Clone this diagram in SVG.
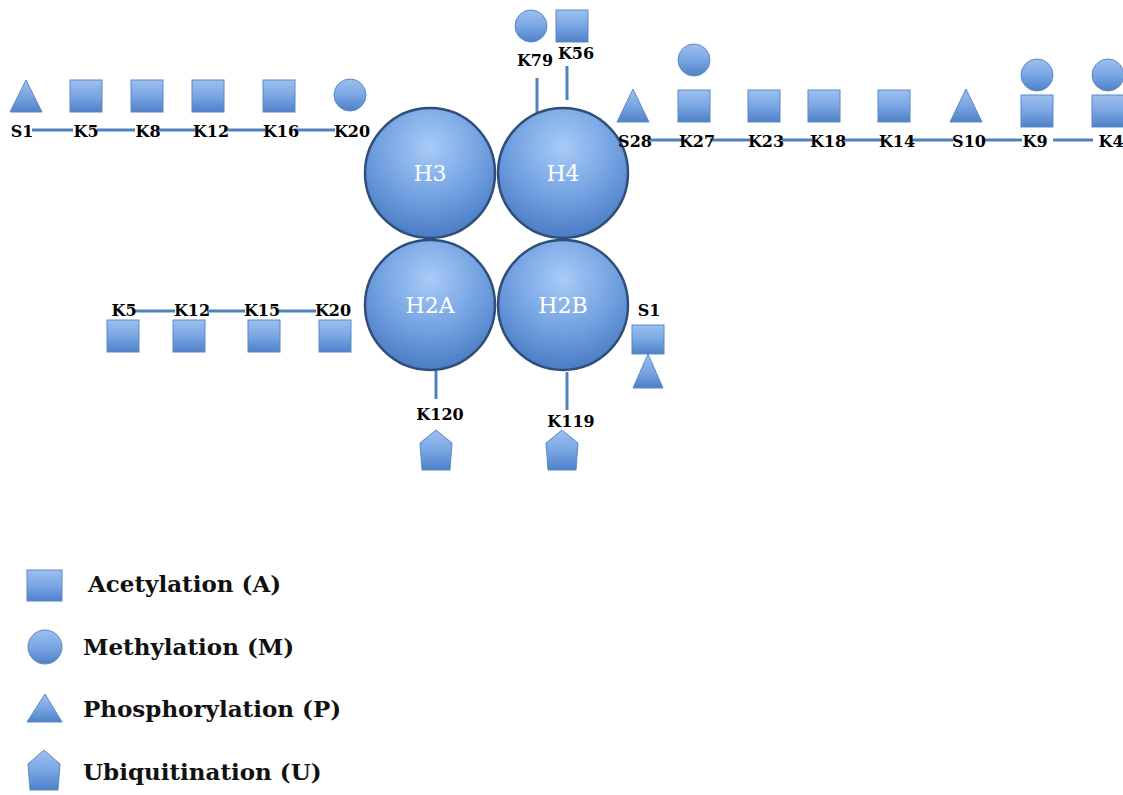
<svg xmlns="http://www.w3.org/2000/svg" width="1123" height="795" viewBox="0 0 1123 795">
<defs>
<linearGradient id="sg" x1="0" y1="0" x2="0" y2="1">
<stop offset="0" stop-color="#9dc0ef"/>
<stop offset="0.5" stop-color="#7aa6e3"/>
<stop offset="1" stop-color="#4f80c8"/>
</linearGradient>
<radialGradient id="cg" cx="0.5" cy="0.3" r="0.7">
<stop offset="0" stop-color="#a9cbf7"/>
<stop offset="0.6" stop-color="#6f9fe0"/>
<stop offset="1" stop-color="#4a7cc4"/>
</radialGradient>
<style>
.s{fill:url(#sg);stroke:#5b88c6;stroke-width:1}
.hc{fill:url(#cg);stroke:#2f4f7a;stroke-width:2.5}
.ht{font-family:"DejaVu Serif","Liberation Serif",serif;font-size:22px;fill:#ffffff;text-anchor:middle}
.lb{font-family:"DejaVu Serif","Liberation Serif",serif;font-size:16px;font-weight:bold;fill:#000;text-anchor:middle}
.lg{font-family:"DejaVu Serif","Liberation Serif",serif;font-size:23px;font-weight:bold;fill:#111}
.ln{stroke:#4f81bd;stroke-width:3;fill:none}
</style>
</defs>
<g id="connectors">
<line class="ln" x1="32" y1="130" x2="73" y2="130"/>
<line class="ln" x1="97" y1="130" x2="135" y2="130"/>
<line class="ln" x1="158" y1="130" x2="195" y2="130"/>
<line class="ln" x1="224" y1="130" x2="265" y2="130"/>
<line class="ln" x1="294" y1="130" x2="335" y2="130"/>
<line class="ln" x1="537" y1="78" x2="537" y2="112"/>
<line class="ln" x1="567" y1="66" x2="567" y2="100"/>
<line class="ln" x1="650" y1="140" x2="682" y2="140"/>
<line class="ln" x1="710" y1="140" x2="750" y2="140"/>
<line class="ln" x1="782" y1="140" x2="812" y2="140"/>
<line class="ln" x1="842" y1="140" x2="882" y2="140"/>
<line class="ln" x1="912" y1="140" x2="953" y2="140"/>
<line class="ln" x1="983" y1="140" x2="1022" y2="140"/>
<line class="ln" x1="1053" y1="140" x2="1093" y2="140"/>
<line class="ln" x1="133" y1="311" x2="175" y2="311"/>
<line class="ln" x1="207" y1="311" x2="245" y2="311"/>
<line class="ln" x1="276" y1="311" x2="316" y2="311"/>
<line class="ln" x1="436" y1="370" x2="436" y2="399"/>
<line class="ln" x1="567" y1="372" x2="567" y2="410"/>
</g>
<g id="H3"><circle class="hc" cx="430" cy="173" r="65"/><text class="ht" x="430" y="181">H3</text></g>
<g id="H4"><circle class="hc" cx="563" cy="173" r="65"/><text class="ht" x="563" y="181">H4</text></g>
<g id="H2A"><circle class="hc" cx="430" cy="305" r="65"/><text class="ht" x="430" y="313">H2A</text></g>
<g id="H2B"><circle class="hc" cx="563" cy="305" r="65"/><text class="ht" x="563" y="313">H2B</text></g>

<g id="H3-S1"><polygon class="s" points="26,80 42,112 10,112"/><text class="lb" x="22" y="137">S1</text></g>
<g id="H3-K5"><rect class="s" x="70" y="80" width="32" height="32"/><text class="lb" x="86" y="137">K5</text></g>
<g id="H3-K8"><rect class="s" x="131" y="80" width="32" height="32"/><text class="lb" x="148" y="137">K8</text></g>
<g id="H3-K12"><rect class="s" x="192" y="80" width="32" height="32"/><text class="lb" x="211" y="137">K12</text></g>
<g id="H3-K16"><rect class="s" x="263" y="80" width="32" height="32"/><text class="lb" x="281" y="137">K16</text></g>
<g id="H3-K20"><circle class="s" cx="350" cy="95" r="16"/><text class="lb" x="352" y="137">K20</text></g>

<g id="H4-K79"><circle class="s" cx="531" cy="26" r="16"/><text class="lb" x="535" y="66">K79</text></g>
<g id="H4-K56"><rect class="s" x="556" y="10" width="32" height="32"/><text class="lb" x="576" y="59">K56</text></g>

<g id="H4-S28"><polygon class="s" points="633,89 649,122 617,122"/><text class="lb" x="635" y="147">S28</text></g>
<g id="H4-K27"><circle class="s" cx="694" cy="60" r="16"/><rect class="s" x="678" y="90" width="32" height="32"/><text class="lb" x="697" y="147">K27</text></g>
<g id="H4-K23"><rect class="s" x="748" y="90" width="32" height="32"/><text class="lb" x="766" y="147">K23</text></g>
<g id="H4-K18"><rect class="s" x="808" y="90" width="32" height="32"/><text class="lb" x="828" y="147">K18</text></g>
<g id="H4-K14"><rect class="s" x="878" y="90" width="32" height="32"/><text class="lb" x="897" y="147">K14</text></g>
<g id="H4-S10"><polygon class="s" points="966,89 982,122 950,122"/><text class="lb" x="969" y="147">S10</text></g>
<g id="H4-K9"><circle class="s" cx="1037" cy="75" r="16"/><rect class="s" x="1021" y="95" width="32" height="32"/><text class="lb" x="1035" y="147">K9</text></g>
<g id="H4-K4"><circle class="s" cx="1108" cy="75" r="16"/><rect class="s" x="1092" y="95" width="32" height="32"/><text class="lb" x="1111" y="147">K4</text></g>

<g id="H2A-K5"><rect class="s" x="107" y="320" width="32" height="32"/><text class="lb" x="124" y="316">K5</text></g>
<g id="H2A-K12"><rect class="s" x="173" y="320" width="32" height="32"/><text class="lb" x="192" y="316">K12</text></g>
<g id="H2A-K15"><rect class="s" x="248" y="320" width="32" height="32"/><text class="lb" x="262" y="316">K15</text></g>
<g id="H2A-K20"><rect class="s" x="319" y="320" width="32" height="32"/><text class="lb" x="333" y="316">K20</text></g>
<g id="H2A-K120"><polygon class="s" points="436,430 452,443 450,470 422,470 420,443"/><text class="lb" x="440" y="420">K120</text></g>

<g id="H2B-S1"><rect class="s" x="632" y="325" width="32" height="29"/><polygon class="s" points="648,354 663,388 633,388"/><text class="lb" x="649" y="316">S1</text></g>
<g id="H2B-K119"><polygon class="s" points="562,430 578,443 576,470 548,470 546,443"/><text class="lb" x="571" y="427">K119</text></g>

<g id="legend">
<rect class="s" x="27" y="570" width="35" height="31"/><text class="lg" x="88" y="592">Acetylation (A)</text>
<circle class="s" cx="45" cy="647" r="17"/><text class="lg" x="83" y="655">Methylation (M)</text>
<polygon class="s" points="45,694 62,722 27,722"/><text class="lg" x="83" y="717">Phosphorylation (P)</text>
<polygon class="s" points="44,750 60,764 58,790 30,790 28,764"/><text class="lg" x="83" y="780">Ubiquitination (U)</text>
</g>
</svg>
